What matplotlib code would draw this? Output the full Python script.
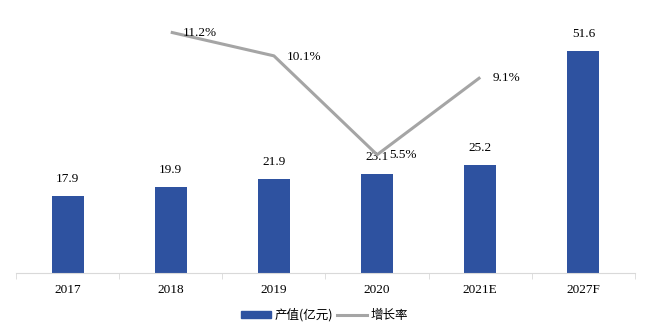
import matplotlib
matplotlib.use('Agg')
import matplotlib.pyplot as plt
import numpy as np
from matplotlib.patches import Patch
from matplotlib.lines import Line2D

years = ['2017', '2018', '2019', '2020', '2021E', '2027F']
output = [17.9, 19.9, 21.9, 23.1, 25.2, 51.6]
growth_years = ['2018', '2019', '2020', '2021E']
growth = [11.2, 10.1, 5.5, 9.1]

bar_color = '#2E52A0'
line_color = '#A5A5A5'
serif = ['Liberation Serif', 'DejaVu Serif']
cjk = ['Noto Sans CJK SC', 'DejaVu Sans']

fig = plt.figure(figsize=(6.49, 3.25), dpi=100)
ax = fig.add_axes([16 / 649, 1 - 273 / 325, 619 / 649, 258 / 325])

x = np.arange(len(years))
ax.bar(x, output, width=0.31, color=bar_color, zorder=2)
for xi, v in zip(x, output):
    ax.annotate('%.1f' % v, (xi, v), xytext=(0, 8), textcoords='offset points',
                ha='center', va='bottom', fontsize=9.5, family=serif)

ax.set_xlim(-0.5, len(years) - 0.5)
ax.set_ylim(0, 60)
ax.set_yticks([])
for s in ['top', 'right', 'left']:
    ax.spines[s].set_visible(False)
ax.spines['bottom'].set_color('#D9D9D9')
ax.set_xticks(x)
ax.set_xticklabels(years, family=serif, fontsize=9.5)
ax.set_xticks(np.arange(len(years) + 1) - 0.5, minor=True)
ax.tick_params(axis='x', which='major', length=0, pad=8)
ax.tick_params(axis='x', which='minor', length=4, color='#D9D9D9')

# growth rate on a hidden secondary axis
ax2 = ax.twinx()
gx = [years.index(y) for y in growth_years]
ax2.plot(gx, growth, color=line_color, lw=2.2, solid_capstyle='butt', zorder=3)
for xi, v in zip(gx, growth):
    ax2.annotate('%.1f%%' % v, (xi, v), xytext=(9, -0.5), textcoords='offset points',
                 ha='left', va='center', fontsize=9.5, family=serif)
ax2.set_ylim(0, 12)
ax2.set_yticks([])
for s in ['top', 'right', 'left', 'bottom']:
    ax2.spines[s].set_visible(False)

handles = [Patch(color=bar_color), Line2D([], [], color=line_color, lw=2.2)]
fig.legend(handles, ['产值(亿元)', '增长率'], loc='center', bbox_to_anchor=(0.5, 1 - 315 / 325),
           ncol=2, frameon=False, prop={'family': cjk, 'size': 9},
           handlelength=2.4, handleheight=0.55, handletextpad=0.3, columnspacing=0.3)

fig.savefig('out.png', dpi=100)
